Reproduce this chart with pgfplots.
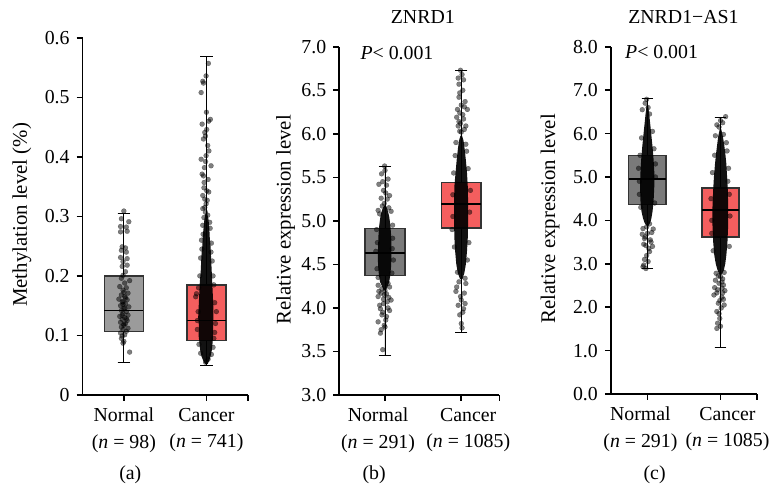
\documentclass[border=0pt]{standalone}
\usepackage{fontspec}
\setmainfont{Liberation Serif}
\usepackage{pgfplots}
\pgfplotsset{compat=1.18}
\usepgfplotslibrary{statistics}

\definecolor{grayA}{HTML}{9B9B9B}
\definecolor{grayB}{HTML}{7A7A7A}
\definecolor{cred}{HTML}{F45E5E}
\newcommand\ff{\fontsize{10}{13.5}\selectfont}
\newcommand\fl{\fontsize{10.5}{12}\selectfont}

\pgfplotsset{
  panel/.style={
    scale only axis,
    axis x line*=bottom, axis y line*=left,
    axis line style={line width=0.8pt,-},
    every tick/.style={line width=0.8pt, black},
    major tick length=3bp,
    tick align=outside,
    xtick={1,2}, extra x ticks={2.5}, extra x tick labels={},
    xticklabel style={align=center, font=\ff},
    yticklabel style={font=\ff},
    /pgf/number format/assume math mode=true,
    clip=false,
  },
  split labels/.style={xticklabel style={xshift={ifthenelse(\ticknum==0,-3.5,3.5)*1bp}}},
  dots/.style={only marks, mark=*, mark size=1.25pt,
    mark options={fill=black, draw=black, line width=0.1pt, opacity=0.5}},
  core/.style={fill=black, fill opacity=0.93, draw=none},
  bx/.style={draw=black!80, line width=0.7pt,
    boxplot/draw direction=y,
    boxplot/every whisker/.style={black, line width=0.5pt},
    boxplot/every median/.style={black, line width=0.9pt}},
}

\begin{document}
\begin{tikzpicture}

% ---------------- (a) methylation
\begin{axis}[panel, at={(41.5bp,51.5bp)}, anchor=south west,
  width=83bp, height=179.5bp,
  xmin=0.5, xmax=2.5, ymin=0, ymax=0.6,
  ytick={0,0.1,0.2,0.3,0.4,0.5,0.6},
  xticklabels={{Normal\\(\textit{n} = 98)},{Cancer\\(\textit{n} = 741)}}]
\addplot[bx, fill=grayA, boxplot prepared={draw position=1, lower whisker=0.055,
  lower quartile=0.107, median=0.142, upper quartile=0.200, upper whisker=0.305,
  box extend=0.47, whisker extend=0.15}] coordinates {};
\addplot[bx, fill=cred, boxplot prepared={draw position=2, lower whisker=0.050,
  lower quartile=0.091, median=0.125, upper quartile=0.185, upper whisker=0.568,
  box extend=0.47, whisker extend=0.15}] coordinates {};
% normal
\addplot[dots] coordinates {
(1.00,0.309)(0.97,0.296)(1.06,0.291)(0.96,0.283)(1.03,0.282)(0.96,0.274)(1.04,0.275)
(0.98,0.249)(1.02,0.247)(0.97,0.243)(1.03,0.240)(0.96,0.231)(1.04,0.229)(0.99,0.224)
(0.98,0.216)(1.04,0.218)(1.02,0.207)(0.99,0.201)(1.07,0.192)(0.97,0.196)(1.01,0.188)
(0.95,0.182)(1.03,0.180)(0.99,0.176)(1.05,0.171)(0.97,0.168)(1.01,0.165)(0.94,0.161)
(1.04,0.160)(0.98,0.157)(1.02,0.153)(0.96,0.150)(1.06,0.148)(1.00,0.145)(0.97,0.142)
(1.03,0.140)(0.99,0.137)(1.05,0.134)(0.95,0.132)(1.01,0.130)(0.98,0.127)(1.04,0.125)
(0.96,0.122)(1.02,0.120)(1.00,0.117)(0.97,0.114)(1.05,0.112)(0.99,0.110)(1.03,0.107)
(0.96,0.104)(1.01,0.101)(0.98,0.099)(0.97,0.095)(1.00,0.090)(0.99,0.087)(1.07,0.072)
(1.00,0.172)(1.02,0.163)(0.99,0.152)(1.01,0.146)(0.98,0.134)(1.03,0.128)(1.00,0.119)(0.99,0.156)};
% cancer
\addplot[core] coordinates {
(1.985,0.052)(1.96,0.058)(1.94,0.065)(1.925,0.075)(1.915,0.088)(1.905,0.10)(1.91,0.115)
(1.90,0.13)(1.905,0.145)(1.91,0.16)(1.915,0.175)(1.92,0.19)(1.93,0.205)(1.935,0.22)
(1.94,0.235)(1.95,0.25)(1.955,0.265)(1.965,0.28)(1.975,0.295)(1.99,0.305)
(2.01,0.305)(2.025,0.295)(2.035,0.28)(2.04,0.265)(2.05,0.25)(2.055,0.235)(2.06,0.22)
(2.065,0.205)(2.07,0.19)(2.075,0.175)(2.08,0.16)(2.085,0.145)(2.085,0.13)(2.08,0.115)
(2.08,0.10)(2.075,0.088)(2.065,0.075)(2.05,0.065)(2.035,0.058)(2.015,0.052)};
\addplot[dots] coordinates {
(2.024,0.557)(1.996,0.536)(1.956,0.527)(1.964,0.524)(1.936,0.508)(2.048,0.463)(2.028,0.460)
(1.948,0.455)(2.004,0.446)(1.988,0.435)(1.964,0.430)(2.016,0.419)(1.996,0.402)(1.936,0.396)
(2.056,0.385)(1.976,0.382)(1.948,0.371)(1.964,0.368)(1.972,0.357)(2.004,0.343)(2.028,0.341)
(1.956,0.335)(1.980,0.329)(1.996,0.321)(1.956,0.313)(1.988,0.307)(2.016,0.302)
(1.88,0.17)(1.90,0.14)(2.10,0.155)(2.11,0.12)(1.89,0.11)(2.09,0.095)(1.91,0.085)(2.08,0.08)
(1.93,0.07)(2.06,0.068)(1.92,0.2)(2.08,0.2)(1.93,0.23)(2.07,0.225)(1.94,0.26)(2.06,0.255)
(1.955,0.285)(2.045,0.28)(1.97,0.298)(1.87,0.165)(2.12,0.14)(1.89,0.125)(2.10,0.105)
(1.905,0.18)(2.09,0.185)(1.945,0.245)(2.055,0.24)(1.96,0.27)(2.04,0.29)(1.99,0.055)(2.02,0.06)
(1.98,0.315)(2.01,0.327)(1.97,0.348)(2.02,0.362)(1.99,0.392)(2.03,0.410)(1.98,0.441)(2.00,0.475)};
\end{axis}

% ---------------- (b) ZNRD1
\begin{axis}[panel, split labels, at={(170.5bp,51.5bp)}, anchor=south west,
  width=80.5bp, height=175bp,
  xmin=0.4, xmax=2.5, ymin=3, ymax=7,
  ytick={3,3.5,4,4.5,5,5.5,6,6.5,7},
  yticklabel style={/pgf/number format/.cd, fixed, fixed zerofill, precision=1},
  xticklabels={{Normal\\(\textit{n} = 291)},{Cancer\\(\textit{n} = 1085)}}]
\addplot[bx, fill=grayB, boxplot prepared={draw position=1, lower whisker=3.45,
  lower quartile=4.37, median=4.63, upper quartile=4.91, upper whisker=5.62,
  box extend=0.52, whisker extend=0.16}] coordinates {};
\addplot[bx, fill=cred, boxplot prepared={draw position=2, lower whisker=3.72,
  lower quartile=4.92, median=5.19, upper quartile=5.44, upper whisker=6.73,
  box extend=0.52, whisker extend=0.16}] coordinates {};
\addplot[core] coordinates {
(0.985,4.2)(0.96,4.25)(0.935,4.3)(0.92,4.38)(0.91,4.48)(0.905,4.6)(0.91,4.72)(0.915,4.84)
(0.925,4.95)(0.94,5.05)(0.96,5.12)(0.985,5.17)
(1.015,5.17)(1.035,5.12)(1.055,5.05)(1.07,4.95)(1.08,4.84)(1.085,4.72)(1.085,4.6)
(1.08,4.48)(1.07,4.38)(1.055,4.3)(1.035,4.25)(1.01,4.2)};
\addplot[dots] coordinates {
(0.995,5.63)(0.955,5.54)(1.04,5.48)(0.92,5.42)(1.02,5.41)(0.98,5.35)(1.06,5.29)(0.95,5.26)
(1.03,5.25)(0.965,5.17)(0.91,5.12)(1.08,5.11)(1.00,5.58)(0.97,5.45)(1.01,5.32)(0.99,5.2)
(1.05,5.15)(0.93,5.08)
(0.89,4.9)(1.10,4.8)(0.88,4.65)(1.11,4.55)(0.895,4.45)(1.09,4.4)(0.90,4.75)(1.10,4.95)
(0.91,4.35)(1.095,4.68)
(0.91,4.26)(1.06,4.24)(0.95,4.17)(1.02,4.16)(0.91,4.13)(1.08,4.09)(0.98,4.05)(0.94,3.99)
(1.04,4.0)(0.96,3.92)(1.02,3.90)(1.06,3.97)(0.91,3.84)(0.99,3.80)(0.95,3.75)(0.94,3.71)
(0.97,3.52)(1.00,4.2)(0.98,4.1)(1.03,4.07)(0.97,3.95)(1.01,3.86)(1.05,4.12)(0.93,4.03)(1.00,3.78)
(0.96,4.22)(1.04,4.28)(0.99,4.15)(0.92,4.19)};
\addplot[core] coordinates {
(1.985,4.33)(1.955,4.4)(1.935,4.5)(1.92,4.65)(1.91,4.8)(1.905,5.0)(1.905,5.2)(1.91,5.4)
(1.925,5.55)(1.94,5.7)(1.955,5.82)(1.97,5.92)(1.99,5.98)
(2.01,5.98)(2.03,5.92)(2.045,5.82)(2.06,5.7)(2.075,5.55)(2.085,5.4)(2.09,5.2)(2.09,5.0)
(2.085,4.8)(2.075,4.65)(2.06,4.5)(2.04,4.4)(2.015,4.33)};
\addplot[dots] coordinates {
(1.99,6.73)(1.96,6.64)(2.03,6.62)(1.97,6.57)(2.05,6.37)(1.95,6.28)(2.08,6.28)(1.98,6.24)
(2.03,6.17)(1.94,6.19)(1.96,6.09)(2.06,6.09)(1.98,6.03)(2.04,6.05)(2.00,6.02)(1.97,6.42)
(2.02,6.5)(2.00,6.33)(1.99,6.12)(2.02,6.22)(2.01,6.68)(1.98,6.47)(2.04,6.31)(1.97,6.14)
(1.89,5.3)(2.11,5.1)(1.88,4.9)(2.10,4.75)(1.90,5.55)(2.09,5.6)(1.92,5.75)(2.07,5.8)
(1.89,5.05)(2.12,5.35)(1.91,4.7)(2.08,4.55)(1.93,5.9)(2.06,5.88)
(1.97,4.30)(2.06,4.28)(1.93,4.19)(2.04,4.17)(2.00,4.09)(1.96,4.03)(2.03,3.99)(1.98,3.92)
(2.00,3.82)(2.01,3.77)(1.95,4.41)(2.05,4.34)(1.94,4.24)(2.02,3.95)(1.99,4.13)(2.05,4.05)};
\end{axis}

% ---------------- (c) ZNRD1-AS1
\begin{axis}[panel, split labels, at={(307bp,52bp)}, anchor=south west,
  width=73.5bp, height=174.5bp,
  xmin=0.5, xmax=2.5, ymin=0, ymax=8,
  ytick={0,1,2,3,4,5,6,7,8},
  yticklabel style={/pgf/number format/.cd, fixed, fixed zerofill, precision=1},
  xticklabels={{Normal\\(\textit{n} = 291)},{Cancer\\(\textit{n} = 1085)}}]
\addplot[bx, fill=grayB, boxplot prepared={draw position=1, lower whisker=2.89,
  lower quartile=4.36, median=4.95, upper quartile=5.50, upper whisker=6.80,
  box extend=0.51, whisker extend=0.16}] coordinates {};
\addplot[bx, fill=cred, boxplot prepared={draw position=2, lower whisker=1.07,
  lower quartile=3.62, median=4.23, upper quartile=4.75, upper whisker=6.37,
  box extend=0.51, whisker extend=0.16}] coordinates {};
\addplot[core] coordinates {
(0.985,3.88)(0.96,3.95)(0.94,4.05)(0.92,4.2)(0.905,4.45)(0.90,4.8)(0.905,5.1)(0.915,5.4)
(0.93,5.7)(0.945,5.95)(0.96,6.2)(0.975,6.45)(0.99,6.65)
(1.01,6.65)(1.025,6.45)(1.04,6.2)(1.055,5.95)(1.07,5.7)(1.085,5.4)(1.095,5.1)(1.095,4.8)
(1.085,4.45)(1.07,4.2)(1.055,4.05)(1.04,3.95)(1.015,3.88)};
\addplot[dots] coordinates {
(0.99,6.79)(0.93,6.55)(1.03,6.45)(1.01,6.6)(0.97,6.7)
(0.88,5.2)(1.11,5.0)(0.89,4.6)(1.10,4.4)(0.90,5.5)(1.09,5.65)(0.92,5.9)(1.07,6.05)
(0.89,4.9)(1.11,5.3)(0.91,4.3)
(0.94,3.81)(1.08,3.80)(0.97,3.62)(1.05,3.50)(0.95,3.45)(1.02,3.35)(1.04,3.55)(0.99,3.19)
(0.95,2.97)(0.98,2.89)(0.94,2.93)(1.00,3.7)(0.93,3.68)(1.06,3.72)(0.98,3.42)(1.03,3.28)
(0.96,3.1)(1.01,3.05)(1.07,3.4)(0.99,3.85)(1.03,3.92)(0.96,3.58)};
\addplot[core] coordinates {
(1.985,2.75)(1.96,2.85)(1.935,3.0)(1.915,3.2)(1.90,3.5)(1.89,3.9)(1.89,4.3)(1.90,4.7)
(1.91,5.0)(1.925,5.3)(1.94,5.55)(1.955,5.75)(1.97,5.95)(1.99,6.1)
(2.01,6.1)(2.03,5.95)(2.05,5.75)(2.065,5.55)(2.08,5.3)(2.09,5.0)(2.10,4.7)(2.105,4.3)
(2.105,3.9)(2.095,3.5)(2.08,3.2)(2.065,3.0)(2.045,2.85)(2.015,2.75)};
\addplot[dots] coordinates {
(2.07,6.39)(1.95,6.2)(2.04,5.98)(1.93,5.95)(2.08,5.79)(2.00,6.3)(1.98,6.15)(2.03,6.25)
(1.87,4.5)(2.13,4.1)(1.88,3.7)(2.12,3.4)(1.89,5.1)(2.11,5.2)(1.90,3.3)(2.10,4.9)
(1.88,4.0)(2.12,4.6)(1.92,5.5)(2.09,5.6)
(1.93,2.62)(2.04,2.51)(1.96,2.40)(2.06,2.38)(1.91,2.28)(2.02,2.23)(1.97,2.09)(2.05,2.05)
(1.95,1.90)(1.99,1.74)(1.96,1.63)(1.95,1.51)(2.00,2.7)(1.94,2.78)(2.05,2.8)(1.98,2.55)
(2.03,2.33)(1.99,2.15)(2.01,1.98)(2.03,2.65)(1.92,2.45)(2.00,1.56)
(1.97,2.72)(2.02,2.58)(1.95,2.33)(2.04,2.18)(1.98,1.85)(2.02,2.44)};
\end{axis}

\node[rotate=90, font=\fl] at (11bp,142bp) {Methylation level (\%)};
\node[rotate=90, font=\fl] at (143.5bp,139.5bp) {Relative expression level};
\node[rotate=90, font=\fl] at (276.5bp,140bp) {Relative expression level};
\node[font=\ff] at (212.5bp,241.5bp) {ZNRD1};
\node[font=\ff] at (343.5bp,241.5bp) {ZNRD1−AS1};
\node[font=\ff, anchor=west, inner sep=0pt] at (181bp,223.5bp) {\textit{P}< 0.001};
\node[font=\ff, anchor=west, inner sep=0pt] at (314bp,224bp) {\textit{P}< 0.001};
\node[font=\ff] at (65.5bp,11.5bp) {(a)};
\node[font=\ff] at (188bp,11.5bp) {(b)};
\node[font=\ff] at (329bp,11.5bp) {(c)};
% page frame: the picture is 388bp x 250bp
\path (0,0) rectangle (388bp,250bp);
\end{tikzpicture}
\end{document}
